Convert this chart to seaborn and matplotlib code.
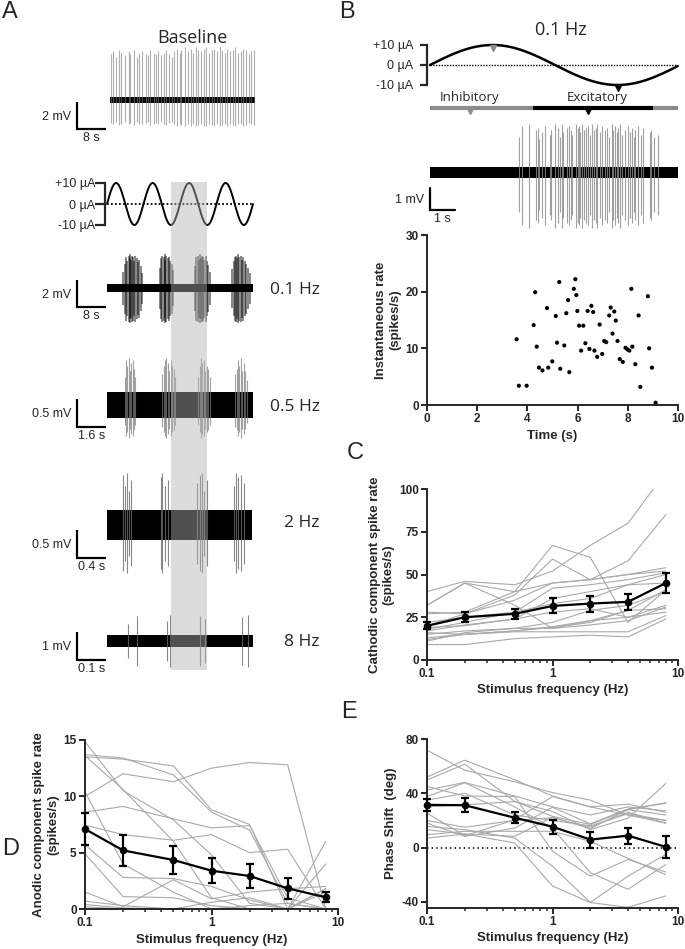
import numpy as np
import pandas as pd
import matplotlib
matplotlib.use("Agg")
import matplotlib.pyplot as plt
import seaborn as sns
from matplotlib.ticker import LogLocator, NullFormatter

# ---------------- data ----------------
# stimulus
stim_amp = 10  # uA
a_freqs = [0.1, 0.5, 2, 8]
highlight_cycles = (1.75, 2.75)

# panel A: spike times (s) and spike heights (mV)
base_t = [1.0, 1.6, 2.5, 3.3, 3.9, 4.8, 5.9, 6.4, 7.3, 8.1, 8.8, 9.5, 10.6, 11.2, 11.9,
          12.8, 13.4, 14.0, 14.9, 15.6, 16.2, 17.1, 17.8, 18.3, 19.2, 19.9, 20.4, 21.5,
          22.1, 22.9, 23.6, 24.3, 25.0, 25.8, 26.5, 27.1, 27.9, 28.7, 29.3, 30.0, 30.9,
          31.5, 32.2, 33.0, 33.8, 34.4, 35.1, 35.9, 36.6, 37.2, 38.0, 38.8, 39.4, 40.2]
base_amp = [3.4, 3.6, 3.2, 3.7, 3.5, 3.3, 3.6, 3.4, 3.7, 3.2, 3.5, 3.6, 3.4, 3.3, 3.7,
            3.5, 3.4, 3.6, 3.3, 3.5, 3.7, 3.4, 3.2, 3.6, 3.8, 3.5, 3.7, 3.9, 3.6, 3.8,
            3.5, 3.9, 3.7, 3.6, 3.8, 3.9, 3.5, 3.7, 3.8, 3.6, 3.9, 3.7, 3.5, 3.8, 3.6,
            3.7, 3.9, 3.5, 3.6, 3.8, 3.7, 3.4, 3.6, 3.7]

hz01_t = [4.5, 4.9, 5.3, 5.6, 5.9, 6.2, 6.4, 6.7, 6.9, 7.2, 7.5, 7.8, 8.1, 8.5, 8.9, 9.3, 9.7,
          14.6, 14.9, 15.2, 15.5, 15.8, 16.0, 16.3, 16.6, 16.9, 17.3, 17.7, 18.0,
          24.2, 24.5, 24.9, 25.2, 25.5, 25.8, 26.1, 26.4, 26.7, 27.0, 27.4, 27.8, 28.1,
          34.3, 34.7, 35.0, 35.4, 35.7, 36.0, 36.3, 36.6, 36.9, 37.3, 37.7, 38.1, 38.6, 39.1]
hz01_amp = [1.2, 1.8, 2.3, 2.0, 2.4, 2.2, 2.5, 2.1, 2.4, 2.3, 2.0, 2.4, 2.2, 1.9, 2.1, 1.6, 1.1,
            1.5, 2.2, 2.4, 2.3, 2.5, 2.1, 2.4, 2.2, 2.3, 2.0, 1.8, 1.3,
            1.6, 2.3, 2.4, 2.1, 2.5, 2.2, 2.4, 2.3, 2.1, 2.4, 2.0, 1.7, 1.2,
            1.4, 2.0, 2.3, 2.4, 2.2, 2.5, 2.3, 2.4, 2.1, 2.3, 2.0, 1.8, 1.5, 1.1]

hz05_t = [1.0, 1.06, 1.12, 1.2, 1.27, 1.33, 1.4, 1.47, 1.52,
          3.02, 3.1, 3.18, 3.25, 3.33, 3.42, 3.5, 3.58, 3.66, 3.72,
          5.0, 5.08, 5.15, 5.22, 5.3, 5.38, 5.46, 5.55, 5.63,
          7.02, 7.1, 7.18, 7.26, 7.34, 7.42, 7.5, 7.58, 7.66]
hz05_amp = [0.5, 0.8, 0.7, 0.84, 0.6, 0.75, 0.8, 0.65, 0.5,
            0.55, 0.7, 0.8, 0.84, 0.75, 0.6, 0.8, 0.7, 0.65, 0.5,
            0.5, 0.7, 0.84, 0.75, 0.8, 0.6, 0.7, 0.65, 0.5,
            0.55, 0.65, 0.8, 0.7, 0.84, 0.6, 0.75, 0.6, 0.45]

hz2_t = [0.215, 0.24, 0.27, 0.30, 0.33, 0.735, 0.76, 0.79, 0.83,
         1.235, 1.27, 1.3, 1.33, 1.365, 1.735, 1.77, 1.8, 1.84, 1.88]
hz2_amp = [0.9, 0.7, 0.93, 0.6, 0.8, 0.85, 0.93, 0.7, 0.8,
           0.75, 0.9, 0.93, 0.6, 0.8, 0.7, 0.93, 0.85, 0.9, 0.75]

hz8_t = [0.072, 0.103, 0.205, 0.216, 0.319, 0.335, 0.462, 0.483]
hz8_amp = [0.6, 0.9, 0.7, 0.93, 0.9, 0.8, 0.85, 0.93]

# panel B: one 0.1 Hz cycle
rate_t = [3.57, 3.66, 3.97, 4.25, 4.31, 4.37, 4.46, 4.60, 4.78, 4.83,
          4.99, 5.13, 5.18, 5.27, 5.31, 5.47, 5.55, 5.62, 5.67, 5.85,
          5.91, 5.95, 5.99, 6.06, 6.14, 6.23, 6.31, 6.40, 6.47, 6.55,
          6.62, 6.67, 6.78, 6.88, 6.98, 7.06, 7.14, 7.26, 7.32, 7.39,
          7.46, 7.52, 7.59, 7.68, 7.80, 7.91, 7.99, 8.06, 8.14, 8.18,
          8.30, 8.43, 8.50, 8.80, 8.85, 8.96, 9.11]
rate_v = [11.6, 3.4, 3.4, 14.1, 19.9, 10.3, 6.6, 6.1, 17.1, 6.6,
          7.7, 15.7, 11.0, 21.7, 6.4, 10.5, 16.2, 18.5, 5.8, 20.5,
          22.2, 19.4, 16.6, 14.0, 9.6, 14.0, 10.9, 16.6, 9.9, 17.5,
          16.4, 9.6, 8.5, 14.2, 9.0, 11.3, 11.1, 15.8, 17.2, 12.6,
          16.5, 14.9, 11.3, 8.1, 7.6, 10.1, 9.8, 9.6, 20.5, 10.3,
          7.2, 15.8, 3.2, 19.2, 10.0, 6.6, 0.4]
b_amp = [1.6, 2.1, 2.2, 1.9, 2.0, 1.5, 1.8, 2.1, 1.7, 1.9,
         2.2, 2.0, 1.6, 2.2, 1.8, 2.0, 2.1, 1.9, 1.7, 2.2,
         2.0, 2.1, 1.8, 2.2, 1.9, 2.0, 2.1, 1.7, 2.2, 1.9,
         2.0, 2.2, 1.8, 2.1, 1.9, 2.0, 1.6, 2.2, 1.9, 2.1,
         1.8, 2.0, 2.2, 1.7, 1.9, 2.1, 1.8, 2.0, 1.6, 1.9,
         2.1, 1.7, 2.0, 1.8, 1.9, 1.6, 1.7]
b_end = 9.9
inhib_windows = [(0, 4.1), (8.9, 9.9)]
excit_window = (4.1, 8.9)
inhib_mark, excit_mark = 1.6, 6.3

# panels C-E
freqs = [0.1, 0.2, 0.5, 1, 2, 4, 8]

cathodic_cells = [
    [40, 46, 44, 52, 67, 80, 110],
    [32, 45, 40, 45, 47, 58, 85],
    [27, 28, 40, 67, 60, 22, 41],
    [28, 27, 38, 59, 47, 50, 54],
    [32, 45, 32, 18.5, 23, 29, 41],
    [20, 27, 35, 45, 47, 50, 52],
    [18, 22, 28, 42, 44, 47, 51],
    [17, 20.5, 24, 36, 40, 44, 50],
    [15, 17, 18.5, 22, 29, 32, 40],
    [12, 15, 17, 19.5, 23, 25, 32],
    [11, 16, 18.5, 18.5, 20.5, 23, 31],
    [9, 9, 12.5, 13.5, 14.5, 13.5, 24],
    [16, 15, 16.5, 16.5, 16.5, 16.5, 26],
    [13, 15, 17, 19, 22, 29, 30],
    [19, 20, 24, 28, 30, 25, 28],
    [22, 25, 28, 33, 36, 44, 45],
]
cathodic_mean = [20, 25, 27, 31.6, 33, 34, 45]
cathodic_sem = [2, 3, 3, 4.4, 4.7, 4.7, 6.1]

anodic_cells = [
    [13.5, 13.3, 12.7, 8.8, 7.5, 0, 0],
    [13.7, 13.4, 11.9, 8.6, 7.0, 0.5, 0],
    [14.85, 10.5, 7.9, 4.8, 0.5, 0, 0],
    [10.0, 12.0, 11.3, 12.5, 13.0, 12.8, 0],
    [8.6, 9.1, 8.0, 7.2, 7.4, 1.0, 0],
    [7.45, 6.6, 6.1, 6.6, 5.0, 5.3, 0],
    [13.6, 10.6, 6.0, 1.0, 0, 0, 1.8],
    [5.7, 2.8, 2.7, 2.0, 0.8, 0, 6.0],
    [10.4, 4.0, 1.5, 0, 0, 0, 4.0],
    [4.9, 1.1, 1.0, 0.3, 0, 0, 1.8],
    [1.5, 0.2, 2.6, 0.9, 1.5, 1.8, 2.0],
    [0.7, 0.3, 0, 0.6, 1.0, 0, 1.5],
    [0.2, 0, 0, 0, 0, 0, 0],
    [0.4, 0.1, 0, 0, 0.3, 0.5, 0],
]
anodic_mean = [7.1, 5.2, 4.35, 3.4, 2.93, 1.83, 1.04]
anodic_sem = [1.4, 1.4, 1.2, 1.1, 1.05, 0.9, 0.45]

phase_cells = [
    [71.7, 57, 48.5, 40.5, 35, 24, 20],
    [52, 64.4, 50, 38, 30, 32, 26],
    [49.8, 61.5, 34, 23, 17, 28, 33],
    [42.4, 48, 38, 30, 24, 30, 27],
    [37.6, 47.8, 30, 14.4, -18.5, -30.7, -12.4],
    [45, 38, 37.6, -2.7, -21, -8.8, -18],
    [30, 31.5, 33.9, 26.6, 13.2, 21.7, 47.3],
    [25.4, 8.8, 20.5, 37.6, 30, 24, 18],
    [18, 8.3, 14.4, 29.7, 17.5, 28.5, 32.7],
    [15.6, 13.2, 7, -13.7, -40.5, -21, -5],
    [13.2, 10, 3.4, -28.3, -40.5, -44, -35.6],
    [9.5, 12, 12, 12, 4.6, -8, -20],
    [7, 10, 8.3, 22.4, 14, 28, 24],
    [35, 40, 24, 20, 16, 25, 20],
    [20, 15, 20, 22, 15, 26, 18],
]
phase_mean = [31.5, 31.2, 22, 15.4, 5.9, 8.8, 0.5]
phase_sem = [4.6, 5, 3.9, 5.1, 5.9, 5.9, 8.3]

# ---------------- style ----------------
sns.set_style("ticks")
plt.rcParams["font.family"] = ["Liberation Sans", "DejaVu Sans"]
plt.rcParams["axes.linewidth"] = 1.4
MYRIAD = ["Open Sans", "DejaVu Sans"]

W, H = 685, 949
fig = plt.figure(figsize=(W / 100, H / 100), dpi=100)


def px_axes(x0, y0, x1, y1):
    ax = fig.add_axes([x0 / W, 1 - y1 / H, (x1 - x0) / W, (y1 - y0) / H])
    ax.set_facecolor("none")
    return ax


def fig_text(x, y, s, **kw):
    fig.text(x / W, 1 - y / H, s, **kw)


# ---------------- panel A ----------------
A_T0, A_CYC = 107, 36.5  # px of stimulus onset, px per stimulus cycle


def a_trace(freq, yc, k, spk_t, spk_amp, dn_ratio, noise, span, sb_mv, sb_s, sb_bottom,
            spike_color, spike_alpha, spike_lw=0.8):
    ax = px_axes(40, yc - 75, 330, yc + 75)
    ax.set_xlim((40 - A_T0) / A_CYC / freq, (330 - A_T0) / A_CYC / freq)
    ax.set_ylim(-75 / k, 75 / k)
    ax.axis("off")
    amp = np.array(spk_amp)
    ax.vlines(spk_t, -amp * dn_ratio, amp, color=spike_color, lw=spike_lw, alpha=spike_alpha)
    ax.fill_between(span, -noise, noise, color="black", lw=0)
    tx = (77 - A_T0) / A_CYC / freq
    vb = (yc - sb_bottom) / k
    ax.plot([tx, tx, tx + sb_s], [vb + sb_mv, vb, vb], color="black", lw=1.6,
            solid_joinstyle="miter", solid_capstyle="butt")
    ax.annotate(f"{sb_mv:g} mV", (tx, vb + sb_mv / 2), xytext=(-4, -1), textcoords="offset points",
                ha="right", va="center", fontsize=9)
    ax.annotate(f"{sb_s:g} s", (tx + sb_s / 2, vb), xytext=(0, -2), textcoords="offset points",
                ha="center", va="top", fontsize=9)
    return ax


a_trace(0.1, 100, 13.5, base_t, base_amp, 0.5, 0.2, [0.8, 40.5], 2, 8, 129, "#7a7a7a", 0.6)
a_trace(a_freqs[0], 288, 13.5, hz01_t, hz01_amp, 1.05, 0.26, [0, 40], 2, 8, 307, "black", 0.6, 1.1)
a_trace(a_freqs[1], 405, 56, hz05_t, hz05_amp, 0.7, 0.23, [0, 8], 0.5, 1.6, 427, "#7a7a7a", 0.7)
a_trace(a_freqs[2], 525, 56, hz2_t, hz2_amp, 0.92, 0.27, [0, 1.98], 0.5, 0.4, 558, "#6a6a6a", 0.8)
a_trace(a_freqs[3], 641, 28, hz8_t, hz8_amp, 1.0, 0.21, [0, 0.5], 1, 0.1, 660, "#6a6a6a", 0.8)

# stimulus sine in A (0.1 Hz timebase, 4 cycles)
ax = px_axes(105, 183, 330, 225)
ax.set_xlim((105 - A_T0) / A_CYC / a_freqs[0], (330 - A_T0) / A_CYC / a_freqs[0])
ax.set_ylim(-stim_amp, stim_amp)
t = np.linspace(0, 4 / a_freqs[0], 600)
ax.plot(t, stim_amp * np.sin(2 * np.pi * a_freqs[0] * t), color="black", lw=1.4, clip_on=False)
ax.plot([0, 4 / a_freqs[0]], [0, 0], color="black", lw=1.3, ls=(0, (1, 1.2)))
sns.despine(ax=ax, bottom=True)
ax.set_xticks([])
ax.set_yticks([-stim_amp, 0, stim_amp], labels=["-10 µA", "0 µA", "+10 µA"], fontsize=9)
ax.tick_params(axis="y", length=7, width=1.6, pad=0)
ax.spines["left"].set_linewidth(1.6)

# highlighted cycle
ax = px_axes(A_T0, 182, A_T0 + 4 * A_CYC, 670)
ax.set_xlim(0, 4)
ax.axis("off")
ax.axvspan(*highlight_cycles, color="#b3b3b3", alpha=0.45, lw=0)

fig_text(192, 38, "Baseline", fontsize=13, family=MYRIAD, ha="center", va="center")
for lab, y in zip(["0.1 Hz", "0.5 Hz", "2 Hz", "8 Hz"], [290, 407, 523, 642]):
    fig_text(320, y, lab, fontsize=12.5, family=MYRIAD, ha="right", va="center")

# ---------------- panel B ----------------
B_T0, B_PPS = 430, 25.0  # px of t=0, px per second
ax = px_axes(427, 45, 680, 85)
ax.set_xlim((427 - B_T0) / B_PPS, (680 - B_T0) / B_PPS)
ax.set_ylim(-stim_amp, stim_amp)
t = np.linspace(0, b_end, 400)
ax.plot(t, stim_amp * np.sin(2 * np.pi * 0.1 * t), color="black", lw=1.8, clip_on=False)
ax.plot([0, b_end], [0, 0], color="black", lw=1.0, ls=(0, (1, 1)))
ax.plot([2.5], [stim_amp - 1.5], marker="v", color="#8c8c8c", ms=5, clip_on=False)
ax.plot([7.5], [-stim_amp - 1.5], marker="v", color="black", ms=5, clip_on=False)
sns.despine(ax=ax, bottom=True)
ax.set_xticks([])
ax.set_yticks([-stim_amp, 0, stim_amp], labels=["-10 µA", "0 µA", "+10 µA"], fontsize=9)
ax.tick_params(axis="y", length=5, width=1.6, pad=5)
ax.spines["left"].set_linewidth(1.6)

ax = px_axes(427, 100, 680, 120)
ax.set_xlim((427 - B_T0) / B_PPS, (680 - B_T0) / B_PPS)
ax.set_ylim(-12, 8)
ax.axis("off")
for s, e in inhib_windows:
    ax.plot([s, e], [0, 0], color="#8c8c8c", lw=3, solid_capstyle="butt")
ax.plot(list(excit_window), [0, 0], color="black", lw=3, solid_capstyle="butt")
ax.plot([inhib_mark], [-3], marker="v", color="#8c8c8c", ms=4.5)
ax.plot([excit_mark], [-3], marker="v", color="black", ms=4.5)
ax.text(inhib_mark, 11, "Inhibitory", family=MYRIAD, fontsize=9.5, ha="center", va="center")
ax.text(sum(excit_window) / 2 + 0.2, 11, "Excitatory", family=MYRIAD, fontsize=9.5, ha="center", va="center")

yc, k = 172, 22
ax = px_axes(380, yc - 70, 680, yc + 70)
ax.set_xlim((380 - B_T0) / B_PPS, (680 - B_T0) / B_PPS)
ax.set_ylim(-70 / k, 70 / k)
ax.axis("off")
amp = np.array(b_amp)
ax.vlines(rate_t, -amp * 1.15, amp, color="#8a8a8a", lw=0.8, alpha=0.8)
ax.fill_between([0, b_end], -0.25, 0.25, color="black", lw=0)
vb = (yc - 210) / k
ax.plot([0, 0, 1], [vb + 1, vb, vb], color="black", lw=1.6, solid_joinstyle="miter")
ax.annotate("1 mV", (0, vb + 0.5), xytext=(-4, -1), textcoords="offset points", ha="right", va="center", fontsize=9)
ax.annotate("1 s", (0.5, vb), xytext=(0, -2), textcoords="offset points", ha="center", va="top", fontsize=9)

fig_text(561, 30, "0.1 Hz", fontsize=13, family=MYRIAD, ha="center", va="center")

# instantaneous rate
ax = px_axes(427, 235, 678, 405)
sns.scatterplot(x=rate_t, y=rate_v, color="black", s=9, edgecolor="none", ax=ax)
ax.set_xlim(0, 10)
ax.set_ylim(0, 30)
ax.set_xticks(range(0, 11, 2), labels=[str(v) for v in range(0, 11, 2)], fontsize=8.5, fontweight="bold")
ax.set_yticks([0, 10, 20, 30], labels=["0", "10", "20", "30"], fontsize=8.5, fontweight="bold")
ax.tick_params(length=4, width=1.4, pad=2)
ax.set_xlabel("Time (s)", fontsize=9.5, fontweight="bold", labelpad=3)
ax.set_ylabel("Instantaneous rate\n(spikes/s)", fontsize=9.5, fontweight="bold", labelpad=3)
sns.despine(ax=ax)


# ---------------- panels C, D, E ----------------
def freq_panel(box, cells, mean, sem, ylim, yticks, ylabel, zero_line=False):
    ax = px_axes(*box)
    df = pd.DataFrame([(i, f, v) for i, c in enumerate(cells) for f, v in zip(freqs, c)],
                      columns=["cell", "freq", "value"])
    if zero_line:
        ax.plot([0.1, 10], [0, 0], color="black", lw=1.1, ls=(0, (1, 2)), zorder=1)
    sns.lineplot(data=df, x="freq", y="value", units="cell", estimator=None,
                 color="#a9a9a9", lw=0.8, ax=ax, legend=False)
    ax.errorbar(freqs, mean, yerr=sem, color="black", lw=1.6, marker="o", ms=4.5,
                capsize=2.8, capthick=1.6, elinewidth=1.6, zorder=5, clip_on=False)
    ax.set_xscale("log")
    ax.set_xlim(0.1, 10)
    ax.set_ylim(*ylim)
    ax.set_xticks([0.1, 1, 10], labels=["0.1", "1", "10"], fontsize=8.5, fontweight="bold")
    ax.xaxis.set_minor_locator(LogLocator(base=10, subs=np.arange(2, 10)))
    ax.xaxis.set_minor_formatter(NullFormatter())
    ax.set_yticks(yticks, labels=[str(v) for v in yticks], fontsize=8.5, fontweight="bold")
    ax.tick_params(which="major", length=4, width=1.4, pad=2)
    ax.tick_params(which="minor", length=2.5, width=1.1)
    ax.set_xlabel("Stimulus frequency (Hz)", fontsize=9.5, fontweight="bold", labelpad=3)
    ax.set_ylabel(ylabel, fontsize=9.5, fontweight="bold", labelpad=3)
    sns.despine(ax=ax)
    return ax


freq_panel((427, 489, 678, 660), cathodic_cells, cathodic_mean, cathodic_sem, (0, 100),
           [0, 25, 50, 75, 100], "Cathodic component spike rate\n(spikes/s)")
freq_panel((85, 740, 338, 909), anodic_cells, anodic_mean, anodic_sem, (0, 15),
           [0, 5, 10, 15], "Anodic component spike rate\n(spikes/s)")
freq_panel((427, 739, 678, 908), phase_cells, phase_mean, phase_sem, (-44.5, 80),
           [-40, 0, 40, 80], "Phase Shift  (deg)", zero_line=True)

# panel letters
for lab, x, y in [("A", 10, 12), ("B", 347, 12), ("C", 355, 453), ("D", 11, 849), ("E", 349, 712)]:
    fig_text(x, y, lab, fontsize=17, ha="center", va="center")

fig.savefig("out.png", dpi=100)
